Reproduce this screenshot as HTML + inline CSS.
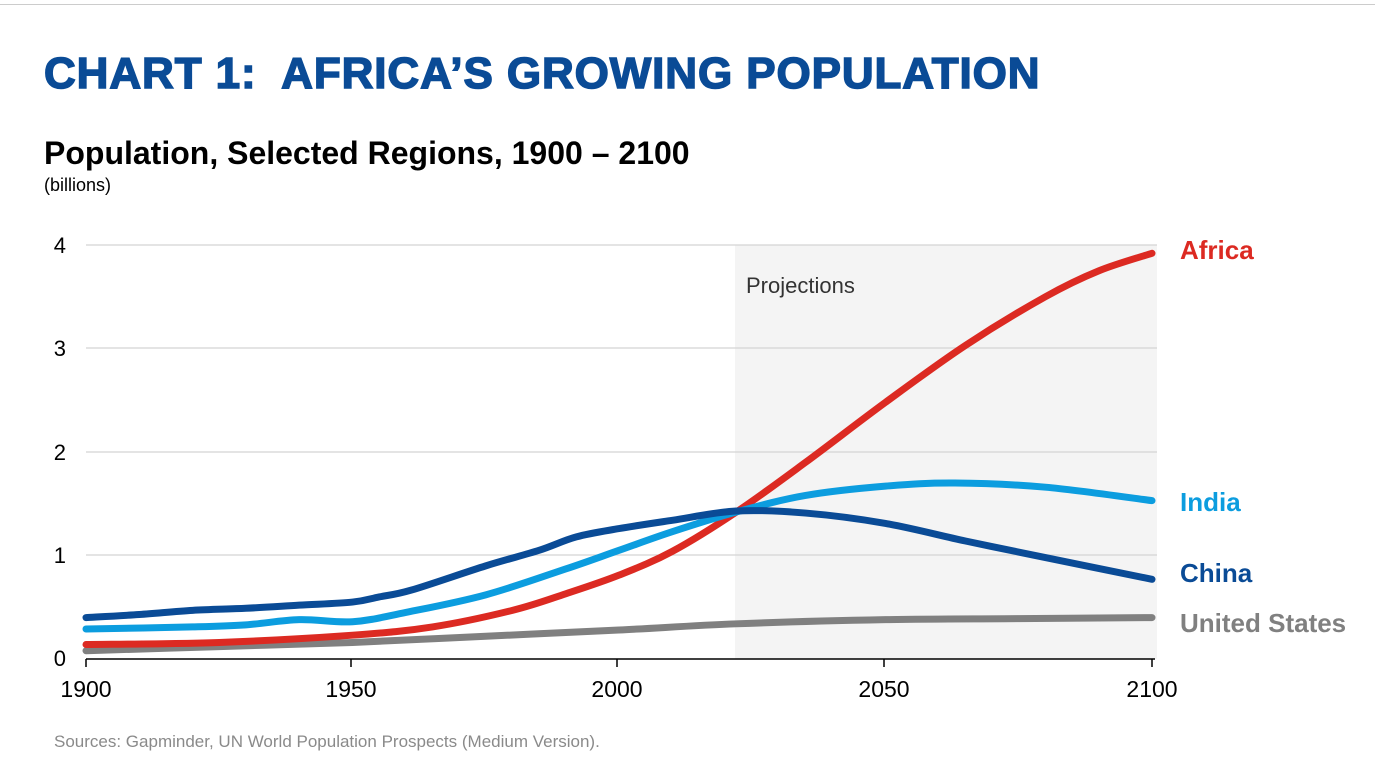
<!DOCTYPE html>
<html><head><meta charset="utf-8"><style>
html,body{margin:0;padding:0;background:#fff;width:1375px;height:776px;overflow:hidden;font-family:"Liberation Sans",Arial,sans-serif}
.top{position:absolute;left:0;top:0;width:1375px;height:4px;border-bottom:1px solid #ccc}
.h1{position:absolute;left:44px;top:49px;font-size:44px;font-weight:900;color:#0a4b96;letter-spacing:0.9px;-webkit-text-stroke:1.5px #0a4b96;white-space:nowrap}
.h2{position:absolute;left:44px;top:135px;font-size:32px;font-weight:bold;color:#000;white-space:nowrap}
.h3{position:absolute;left:44px;top:175px;font-size:18px;color:#000}
svg{position:absolute;left:0;top:0}
</style></head><body>
<div class="top"></div>
<div class="h1">CHART 1:&nbsp; AFRICA’S GROWING POPULATION</div>
<div class="h2">Population, Selected Regions, 1900 – 2100</div>
<div class="h3">(billions)</div>
<svg width="1375" height="776" id="s" font-family="Liberation Sans, Arial, sans-serif">
<rect x="735" y="245" width="422" height="414" fill="#f4f4f4"/>
<g stroke="#d4d4d4" stroke-width="1.3">
<line x1="86" x2="1157" y1="245" y2="245"/><line x1="86" x2="1157" y1="348" y2="348"/>
<line x1="86" x2="1157" y1="452" y2="452"/><line x1="86" x2="1157" y1="555" y2="555"/>
</g>
<g font-size="22" fill="#000" text-anchor="end">
<text x="66" y="253">4</text><text x="66" y="356">3</text><text x="66" y="460">2</text><text x="66" y="563">1</text><text x="66" y="666">0</text>
</g>
<text x="746" y="293" font-size="22" fill="#333">Projections</text>
<g id="lines" fill="none" stroke-width="7" stroke-linecap="round" stroke-linejoin="round"></g>
<line x1="86" x2="1155" y1="659" y2="659" stroke="#000" stroke-width="1.5"/>
<g stroke="#000" stroke-width="1.5"><line x1="86" x2="86" y1="659" y2="667"/><line x1="351" x2="351" y1="659" y2="667"/><line x1="617" x2="617" y1="659" y2="667"/><line x1="884" x2="884" y1="659" y2="667"/><line x1="1152" x2="1152" y1="659" y2="667"/></g>
<g font-size="23" fill="#000" text-anchor="middle">
<text x="86" y="697">1900</text><text x="351" y="697">1950</text><text x="617" y="697">2000</text><text x="884" y="697">2050</text><text x="1152" y="697">2100</text>
</g>
<g font-size="26" font-weight="bold">
<text x="1180" y="259" fill="#dc2a22">Africa</text>
<text x="1180" y="511" fill="#0c9ddf">India</text>
<text x="1180" y="582" fill="#0a4b96">China</text>
<text x="1180" y="632" fill="#808080">United States</text>
</g>
<text x="54" y="747" font-size="17" fill="#8a8a8a">Sources: Gapminder, UN World Population Prospects (Medium Version).</text>
</svg>
<script>
function X(y){return 86+(y-1900)*5.33}
function Y(v){return 659-v*103.5}
function path(d){var p=d.map(function(a){return[X(a[0]),Y(a[1])]});var s="M"+p[0][0]+","+p[0][1];
for(var i=0;i<p.length-1;i++){var p0=p[i-1]||p[i],p1=p[i],p2=p[i+1],p3=p[i+2]||p2;
s+=" C"+(p1[0]+(p2[0]-p0[0])/6)+","+(p1[1]+(p2[1]-p0[1])/6)+" "+(p2[0]-(p3[0]-p1[0])/6)+","+(p2[1]-(p3[1]-p1[1])/6)+" "+p2[0]+","+p2[1];}return s;}
var S=[
["#808080",[[1900,0.08],[1925,0.12],[1950,0.16],[1975,0.22],[2000,0.28],[2022,0.34],[2050,0.38],[2075,0.39],[2100,0.40]]],
["#dc2a22",[[1900,0.14],[1925,0.16],[1950,0.23],[1965,0.31],[1980,0.47],[1990,0.63],[2000,0.81],[2010,1.04],[2022,1.42],[2035,1.9],[2050,2.48],[2065,3.03],[2080,3.5],[2090,3.75],[2100,3.92]]],
["#0c9ddf",[[1900,0.29],[1920,0.31],[1930,0.33],[1940,0.38],[1950,0.36],[1960,0.45],[1975,0.62],[1990,0.87],[2000,1.05],[2010,1.23],[2022,1.42],[2035,1.58],[2050,1.67],[2063,1.70],[2080,1.66],[2100,1.53]]],
["#0a4b96",[[1900,0.40],[1910,0.43],[1920,0.47],[1930,0.49],[1940,0.52],[1950,0.55],[1955,0.60],[1961,0.665],[1975,0.90],[1985,1.05],[1992,1.18],[2000,1.26],[2010,1.34],[2022,1.43],[2035,1.41],[2050,1.31],[2065,1.14],[2080,0.98],[2100,0.77]]]];
var g=document.getElementById("lines");
S.forEach(function(s){var e=document.createElementNS("http://www.w3.org/2000/svg","path");e.setAttribute("d",path(s[1]));e.setAttribute("stroke",s[0]);g.appendChild(e);});
</script>
</body></html>
